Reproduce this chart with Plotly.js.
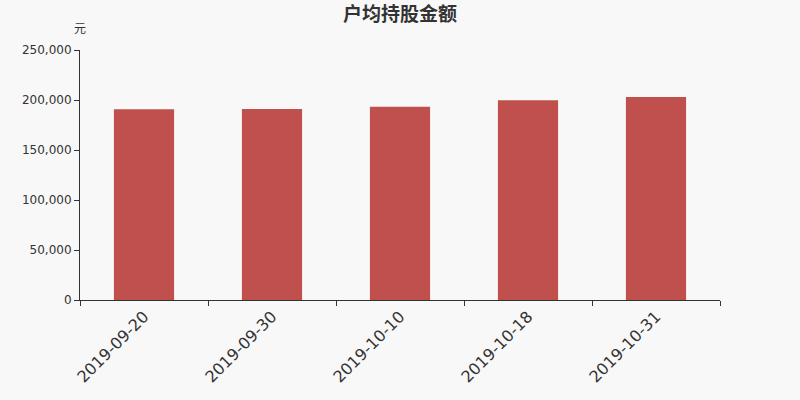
<!DOCTYPE html>
<html>
<head>
<meta charset="utf-8">
<script src="https://cdn.plot.ly/plotly-3.0.1.min.js"></script>
<style>
  html, body { margin: 0; padding: 0; background: #f8f8f8; }
  #chart { width: 800px; height: 400px; }
</style>
</head>
<body>
<div id="chart"></div>
<script>
const dates = ["2019-09-20", "2019-09-30", "2019-10-10", "2019-10-18", "2019-10-31"];
const avgHolding = [190700, 190900, 193300, 199700, 203000];
const yTicks = [0, 50000, 100000, 150000, 200000, 250000];
const yTickText = ["0", "50,000", "100,000", "150,000", "200,000", "250,000"];

const font = "'DejaVu Sans', 'Noto Sans CJK SC', sans-serif";

const trace = {
  x: dates,
  y: avgHolding,
  type: "bar",
  marker: { color: "#c0504d" },
  hoverinfo: "x+y",
};

const layout = {
  width: 800,
  height: 400,
  paper_bgcolor: "#f8f8f8",
  plot_bgcolor: "#f8f8f8",
  margin: { l: 80, r: 80, t: 50, b: 100 },
  bargap: 0.53,
  showlegend: false,
  font: { family: font, color: "#333" },
  title: {
    text: "<b>户均持股金额</b>",
    x: 0.5,
    xanchor: "center",
    y: 0.965,
    yanchor: "middle",
    font: { size: 19, color: "#333", family: font },
  },
  xaxis: {
    type: "category",
    showline: true,
    linecolor: "#333",
    linewidth: 1,
    ticks: "outside",
    tickson: "boundaries",
    ticklen: 5,
    tickcolor: "#333",
    tickangle: -45,
    tickfont: { size: 16, color: "#333" },
    showgrid: false,
    zeroline: false,
  },
  yaxis: {
    range: [0, 250000],
    tickvals: yTicks,
    ticktext: yTickText,
    showline: true,
    linecolor: "#333",
    linewidth: 1,
    ticks: "outside",
    ticklen: 5,
    tickcolor: "#333",
    tickfont: { size: 12, color: "#333" },
    showgrid: false,
    zeroline: false,
  },
  annotations: [
    {
      text: "元",
      xref: "paper",
      yref: "paper",
      x: 0,
      y: 1.084,
      xanchor: "center",
      yanchor: "middle",
      showarrow: false,
      font: { size: 12, color: "#333" },
    },
  ],
};

Plotly.newPlot("chart", [trace], layout, { displayModeBar: false });
</script>
</body>
</html>
